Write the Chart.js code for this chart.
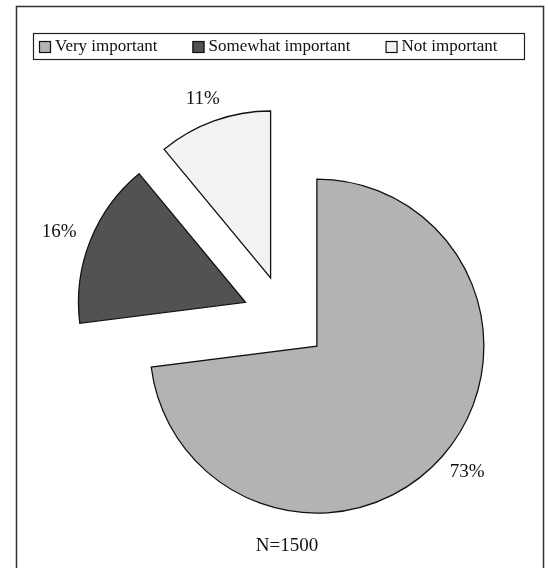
<!DOCTYPE html>
<html>
<head>
<meta charset="utf-8">
<title>Importance</title>
<script src="https://cdn.jsdelivr.net/npm/chart.js@4/dist/chart.umd.min.js"></script>
<style>
  html, body { margin: 0; padding: 0; background: #fff; }
  #wrap { width: 548px; height: 568px; position: relative; }
</style>
</head>
<body>
<div id="wrap"><canvas id="pieChart"></canvas></div>
<script>
// survey answers, in percent
const categories = ['Very important', 'Somewhat important', 'Not important'];
const shares = [73, 16, 11];
const sliceColors = ['#b3b3b3', '#525252', '#f3f3f3'];
const sampleNote = 'N=1500';

const FONT = '"Liberation Serif", "Times New Roman", serif';
const EXPLODE = 42.5;   // every slice is pulled out of the centre by this much

document.addEventListener('DOMContentLoaded', () => {
    const ctx = document.getElementById('pieChart').getContext('2d');

    // draws each slice shifted outwards along its middle angle
    const explodePlugin = {
        id: 'explode',
        beforeDatasetDraw(chart, args) {
            const c = chart.ctx;
            args.meta.data.forEach(arc => {
                const mid = (arc.startAngle + arc.endAngle) / 2;
                c.save();
                c.translate(Math.cos(mid) * EXPLODE, Math.sin(mid) * EXPLODE);
                arc.draw(c);
                c.restore();
            });
            return false;
        }
    };

    // percent labels just outside each slice, frame, legend box and the N note
    const decorPlugin = {
        id: 'decor',
        beforeDraw(chart) {
            const c = chart.ctx;
            c.save();
            c.strokeStyle = '#333';
            c.lineWidth = 1.5;
            c.strokeRect(16.5, 6.5, 527, 600);
            c.restore();
        },
        afterDatasetsDraw(chart) {
            const c = chart.ctx;
            const meta = chart.getDatasetMeta(0);
            c.save();
            c.font = '19px ' + FONT;
            c.fillStyle = '#111';
            c.textAlign = 'center';
            c.textBaseline = 'middle';
            meta.data.forEach((arc, i) => {
                const mid = (arc.startAngle + arc.endAngle) / 2;
                const cos = Math.cos(mid), sin = Math.sin(mid);
                const r = EXPLODE + arc.outerRadius;
                const text = shares[i] + '%';
                const w = c.measureText(text).width;
                const pad = 16;
                const x = arc.x + cos * r + cos * (w / 2 + pad);
                const y = arc.y + sin * r + sin * (7 + pad);
                c.fillText(text, x, y);
            });

            // sample size under the pie
            c.fillText(sampleNote, chart.chartArea.left + chart.chartArea.width / 2 + 2, 546);
            c.restore();
        },
        afterDraw(chart) {
            const c = chart.ctx;
            c.save();
            c.strokeStyle = '#222';
            c.lineWidth = 1.2;
            c.strokeRect(33.5, 33.5, 491, 26);

            c.font = '17px ' + FONT;
            c.textBaseline = 'middle';
            c.fillStyle = '#111';
            let x = 39;
            const y = 47;
            categories.forEach((name, i) => {
                c.fillStyle = sliceColors[i];
                c.fillRect(x, y - 6, 12, 12);
                c.strokeStyle = '#111';
                c.lineWidth = 1.2;
                c.strokeRect(x + 0.5, y - 5.5, 11, 11);
                c.fillStyle = '#111';
                c.fillText(name, x + 16, y);
                x += 16 + c.measureText(name).width + 35;
            });
            c.restore();
        }
    };

    new Chart(ctx, {
        type: 'pie',
        data: {
            labels: categories,
            datasets: [{
                data: shares,
                backgroundColor: sliceColors,
                borderColor: '#111',
                borderWidth: 1.3,
                borderJoinStyle: 'miter',
                radius: 167
            }]
        },
        options: {
            responsive: true,
            maintainAspectRatio: false,
            animation: false,
            radius: 167,
            layout: { padding: { left: 22, right: 0, top: 68, bottom: 0 } },
            plugins: {
                legend: { display: false },
                tooltip: { enabled: false }
            }
        },
        plugins: [explodePlugin, decorPlugin]
    });
});
</script>
</body>
</html>
